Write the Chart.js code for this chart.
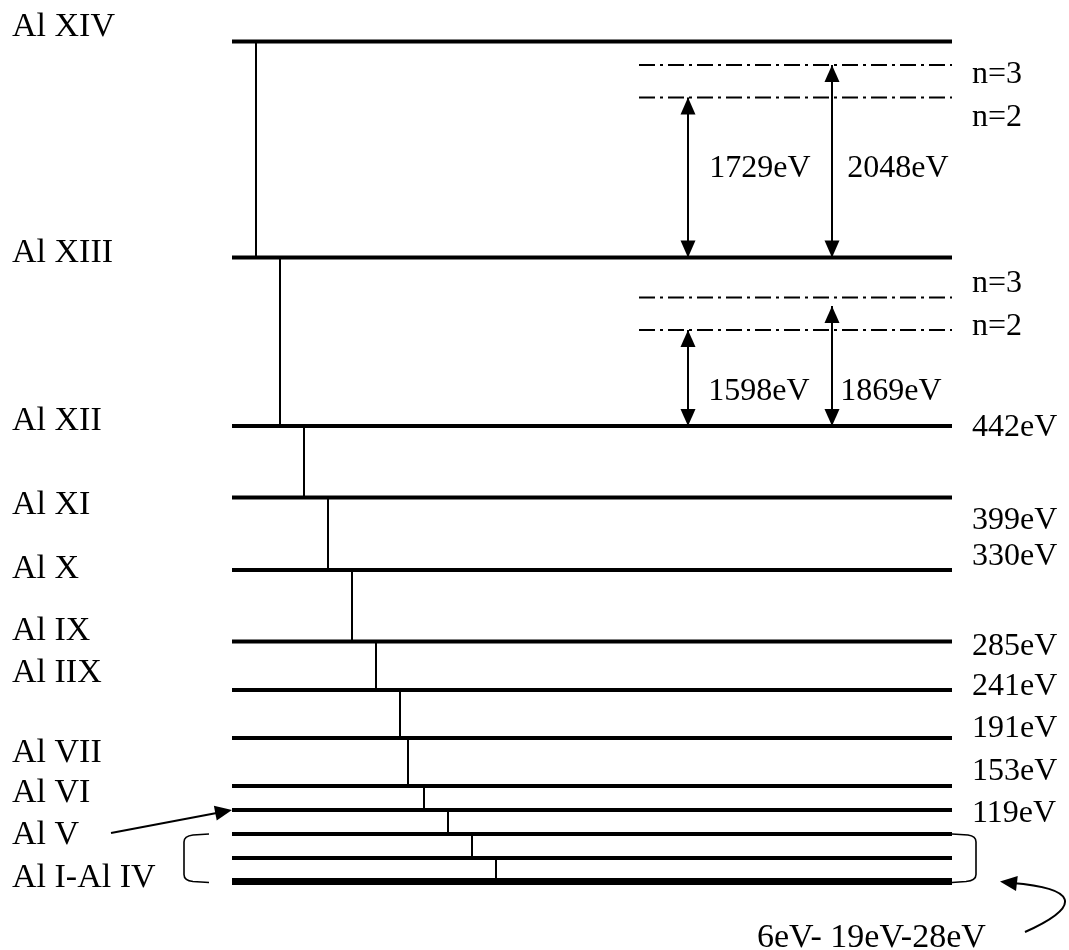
<!DOCTYPE html>
<html>
<head>
<meta charset="utf-8">
<script src="https://cdn.jsdelivr.net/npm/chart.js@4.4.0/dist/chart.umd.min.js"></script>
<style>
  html, body { margin: 0; padding: 0; background: #fff; }
  #wrap { width: 1069px; height: 950px; }
</style>
</head>
<body>
<div id="wrap"><canvas id="diagram" width="1069" height="950"></canvas></div>
<script>
// Energy level diagram of Al ions - values in diagram units (x: 0..1069, y: 0..950 top-down)

// ion stage names on the left and their baselines
const ionNames = ['Al XIV', 'Al XIII', 'Al XII', 'Al XI', 'Al X', 'Al IX', 'Al IIX', 'Al VII', 'Al VI', 'Al V', 'Al I-Al IV'];
const ionNameY = [36, 262, 430, 514, 578, 640, 682, 762, 802, 844, 887];

// ground levels, top to bottom (last three belong to Al I-Al IV)
const levelY = [41.5, 257.5, 426, 497.5, 570, 641.5, 690, 738, 786, 810, 834, 858, 881.5];
// vertical connectors between level i and level i+1
const connectorX = [256, 280, 304, 328, 352, 376, 400, 408, 424, 448, 472, 496];

// ionisation energies written on the right
const energyText = ['442eV', '399eV', '330eV', '285eV', '241eV', '191eV', '153eV', '119eV'];
const energyY = [436, 529, 565, 655, 695, 737, 780, 822];

// excited states n=3 / n=2 above Al XIII and Al XII
const excitedName = ['n=3', 'n=2', 'n=3', 'n=2'];
const excitedY = [65, 97.5, 297.5, 330];
const excitedNameY = [83, 126, 292, 335];

// transitions (double arrows)
const transText = ['1729eV', '2048eV', '1598eV', '1869eV'];
const transX = [688, 832, 688, 832];
const transFrom = [257.5, 257.5, 426, 426];
const transTo = [97.5, 65, 330, 306];
const transTextX = [760, 898, 759, 891];
const transTextY = [177, 177, 400, 400];

// bottom note
const groundNote = '6eV- 19eV-28eV';

const X_LEFT = 232, X_RIGHT = 952, X_EXCITED = 639, X_TEXT_L = 12, X_TEXT_R = 972;
const FONT = '32px "Liberation Serif", "Times New Roman", serif';
const FONT_WIDE = '34px "Liberation Serif", "Times New Roman", serif';

function seg(points, width) {
  return {
    data: points,
    showLine: true,
    borderColor: '#000',
    borderWidth: width,
    pointRadius: 0,
    fill: false,
    clip: false
  };
}

const datasets = [];
levelY.forEach((y, i) => {
  datasets.push(seg([{ x: X_LEFT, y }, { x: X_RIGHT, y }], i === levelY.length - 1 ? 7 : 4));
});
connectorX.forEach((x, i) => {
  datasets.push(seg([{ x, y: levelY[i] }, { x, y: levelY[i + 1] }], 2));
});
excitedY.forEach((y) => {
  const d = seg([{ x: X_EXCITED, y }, { x: X_RIGHT, y }], 2);
  d.borderDash = [16, 5, 3, 5];
  datasets.push(d);
});
transX.forEach((x, i) => {
  datasets.push(seg([{ x, y: transFrom[i] }, { x, y: transTo[i] }], 2));
});

// filled arrow head with its tip at (tx, ty), pointing away from (fx, fy)
function head(ctx, tx, ty, fx, fy, len, half) {
  const a = Math.atan2(ty - fy, tx - fx);
  ctx.beginPath();
  ctx.moveTo(tx, ty);
  ctx.lineTo(tx - len * Math.cos(a) + half * Math.sin(a), ty - len * Math.sin(a) - half * Math.cos(a));
  ctx.lineTo(tx - len * Math.cos(a) - half * Math.sin(a), ty - len * Math.sin(a) + half * Math.cos(a));
  ctx.closePath();
  ctx.fill();
}

const decorations = {
  id: 'decorations',
  afterDatasetsDraw(chart) {
    const { ctx } = chart;
    const sx = (v) => chart.scales.x.getPixelForValue(v);
    const sy = (v) => chart.scales.y.getPixelForValue(v);
    ctx.save();
    ctx.fillStyle = '#000';
    ctx.strokeStyle = '#000';

    // transition arrow heads
    transX.forEach((x, i) => {
      head(ctx, sx(x), sy(transTo[i]), sx(x), sy(transFrom[i]), 17, 7.5);
      head(ctx, sx(x), sy(transFrom[i]), sx(x), sy(transTo[i]), 17, 7.5);
    });

    // arrow from "Al V" to its level
    ctx.lineWidth = 2;
    ctx.beginPath();
    ctx.moveTo(sx(111), sy(833));
    ctx.lineTo(sx(X_LEFT - 10), sy(levelY[9] + 2));
    ctx.stroke();
    head(ctx, sx(X_LEFT), sy(levelY[9]), sx(111), sy(833), 17, 7.5);

    // brackets round Al I-Al IV
    const bt = sy(levelY[10]), bb = sy(levelY[12]);
    ctx.lineWidth = 1.6;
    ctx.beginPath();
    ctx.moveTo(sx(209), bt);
    ctx.lineTo(sx(193), bt + 1);
    ctx.quadraticCurveTo(sx(184), bt + 2, sx(184), bt + 8);
    ctx.lineTo(sx(184), bb - 7);
    ctx.quadraticCurveTo(sx(184), bb - 1, sx(193), bb);
    ctx.lineTo(sx(209), bb + 1);
    ctx.stroke();
    ctx.beginPath();
    ctx.moveTo(sx(X_RIGHT), bt);
    ctx.lineTo(sx(968), bt + 1);
    ctx.quadraticCurveTo(sx(976), bt + 2, sx(976), bt + 8);
    ctx.lineTo(sx(976), bb - 7);
    ctx.quadraticCurveTo(sx(976), bb - 1, sx(966), bb);
    ctx.lineTo(sx(X_RIGHT), bb + 1);
    ctx.stroke();

    // curved arrow from the note to the bracket
    ctx.lineWidth = 2;
    ctx.beginPath();
    ctx.moveTo(sx(1025), sy(932));
    ctx.bezierCurveTo(sx(1085), sy(905), sx(1075), sy(888), sx(1012), sy(883));
    ctx.stroke();
    head(ctx, sx(1000), sy(881.5), sx(1030), sy(885), 17, 7.5);

    // texts
    ctx.textBaseline = 'alphabetic';
    ctx.textAlign = 'left';
    ctx.font = FONT_WIDE;
    ionNames.forEach((t, i) => ctx.fillText(t, sx(X_TEXT_L), sy(ionNameY[i])));
    ctx.fillText(groundNote, sx(757), sy(947));
    ctx.font = FONT;
    energyText.forEach((t, i) => ctx.fillText(t, sx(X_TEXT_R), sy(energyY[i])));
    excitedName.forEach((t, i) => ctx.fillText(t, sx(X_TEXT_R), sy(excitedNameY[i])));
    ctx.textAlign = 'center';
    transText.forEach((t, i) => ctx.fillText(t, sx(transTextX[i]), sy(transTextY[i])));
    ctx.restore();
  }
};

new Chart(document.getElementById('diagram').getContext('2d'), {
  type: 'scatter',
  data: { datasets },
  options: {
    responsive: false,
    animation: false,
    events: [],
    layout: { padding: 0 },
    plugins: { legend: { display: false }, tooltip: { enabled: false } },
    scales: {
      x: { type: 'linear', display: false, min: 0, max: 1069 },
      y: { type: 'linear', display: false, min: 0, max: 950, reverse: true }
    }
  },
  plugins: [decorations]
});
</script>
</body>
</html>
